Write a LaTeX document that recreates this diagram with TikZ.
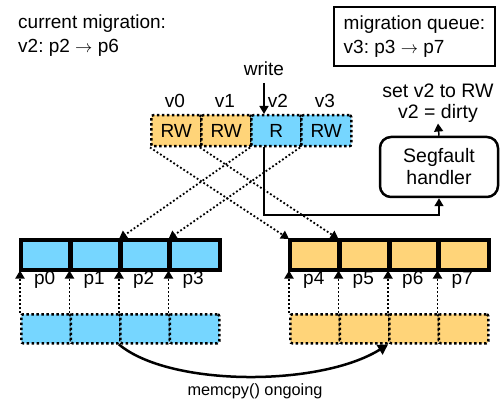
\documentclass[tikz,border=0pt]{standalone}
\usepackage{fontspec}
\setmainfont{Liberation Sans}
\usetikzlibrary{arrows.meta}
\definecolor{sky}{HTML}{76D6FF}
\definecolor{cant}{HTML}{FFD479}
\frenchspacing
\begin{document}
\begin{tikzpicture}[x=1pt,y=-1pt,
  font=\fontsize{19}{23.5}\selectfont,
  cell/.style={draw, line width=2.5pt, minimum width=49.5pt, minimum height=29pt, inner sep=0pt, anchor=north west},
  dcell/.style={draw, line width=2.5pt, dash pattern=on 2.5pt off 2.5pt, rounded corners=2pt, minimum width=49.5pt, minimum height=29pt, inner sep=0pt, anchor=north west},
  vcell/.style={draw, line width=2.5pt, dash pattern=on 2.5pt off 2.5pt, rounded corners=2pt, minimum width=50pt, minimum height=31pt, inner sep=0pt, anchor=north west},
  dotarrow/.style={line width=1.8pt, dash pattern=on 1.8pt off 2.2pt, -{Triangle[width=9pt,length=8pt]}},
  solidarrow/.style={line width=1.5pt, -{Triangle[width=9pt,length=8pt]}},
  lbl/.style={anchor=base, inner sep=0pt}
]
\useasboundingbox (0,0) rectangle (503,414);

% top-left text
\node[anchor=north west, align=left, inner sep=0pt] (cur) at (18,15) {current migration:\\v2: p2 $\rightarrow$ p6};

% migration queue box
\node[draw, line width=2.5pt, minimum width=161pt, minimum height=59pt, align=left, inner sep=0pt] (queue) at (414.5,36.5) {migration queue:\\v3: p3 $\rightarrow$ p7};

% virtual pages
\node[vcell, fill=cant] (v0) at (150,114) {RW};
\node[vcell, fill=cant] (v1) at (200,114) {RW};
\node[vcell, fill=sky]  (v2) at (250,114) {R};
\node[vcell, fill=sky]  (v3) at (300,114) {RW};
\node[lbl] (lv0) at (175,108) {v0};
\node[lbl] (lv1) at (225,108) {v1};
\node[lbl] (lv2) at (278,108) {v2};
\node[lbl] (lv3) at (325,108) {v3};

% write
\node[lbl] (write) at (264,76) {write};
\coordinate (wtop) at (264,83);
\draw[solidarrow] (wtop) -- (wtop |- v2.north);

% physical pages
\foreach \i/\x in {0/20,1/69.5,2/119,3/168.5}{
  \node[cell, fill=sky] (p\i) at (\x,239) {};
  \node[dcell, fill=sky] (b\i) at (\x,313) {};
  \node[lbl] (lp\i) at (\x+24.75,284) {p\i};
}
\foreach \i/\x in {4/289,5/338.5,6/388,7/437.5}{
  \node[cell, fill=cant] (p\i) at (\x,239) {};
  \node[dcell, fill=cant] (b\i) at (\x,313) {};
  \node[lbl] (lp\i) at (\x+24.75,284) {p\i};
}
% redraw solid borders on top
\foreach \i in {0,...,7}{ \draw[line width=2.5pt] (p\i.north west) rectangle (p\i.south east); }

% backing to physical arrows
\foreach \i in {0,...,7}{
  \draw[dotarrow] (b\i.north west) -- (p\i.south west);
}

% mapping arrows
\draw[dotarrow] (v0.south west) -- (p4.north west);
\draw[dotarrow] (v1.south west) -- (p5.north west);
\draw[dotarrow] (v2.south west) -- (p2.north west);
\draw[dotarrow] (v3.south west) -- (p3.north west);

% segfault handler
\node[draw, line width=2.5pt, rounded corners=11pt, minimum width=118pt, minimum height=60pt, align=center, font=\fontsize{19.5}{22}\selectfont] (seg) at (439,167) {Segfault\\handler};
\node[align=center, inner sep=1pt, font=\fontsize{19.5}{21}\selectfont] (set) at (438,103) {set v2 to RW\\v2 = dirty};
\draw[solidarrow] (seg.north) -- (set.south);
\draw[solidarrow] (wtop |- v2.south) -- (264,215) -| (seg.south);

% memcpy
\draw[line width=2.5pt, -{Triangle[width=11pt,length=10pt]}] (b2.south west) .. controls (170,387) and (320,387) .. (b6.south west);
\node[font=\fontsize{16.3}{19}\selectfont] (mem) at (255,391) {memcpy() ongoing};
\end{tikzpicture}
\end{document}
